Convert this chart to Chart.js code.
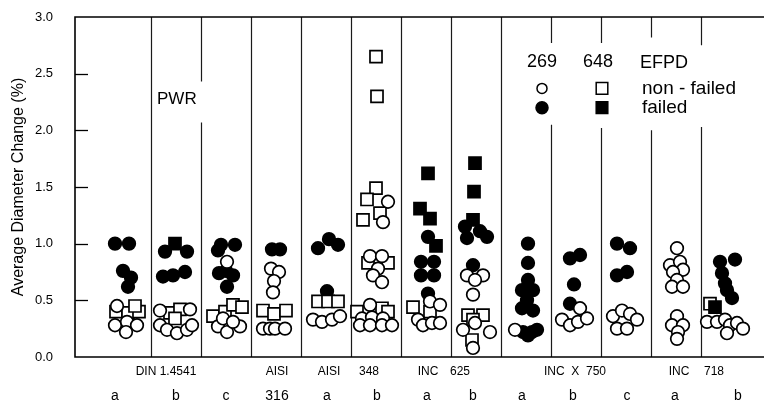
<!DOCTYPE html>
<html><head><meta charset="utf-8">
<script src="https://cdn.jsdelivr.net/npm/chart.js@4/dist/chart.umd.min.js"></script>
<style>html,body{margin:0;padding:0;background:#fff}</style>
</head><body>
<canvas id="c" width="764" height="418"></canvas>
<script>
// ---- tick labels ----
const letters = ['a','b','c','316','a','b','a','b','a','b','c','a','b'];
const letterPos = [-0.22,1,2,3.02,4.02,5.02,6.02,6.94,7.92,8.94,10.02,10.98,12.24];
const groups = ['DIN 1.4541','AISI','AISI','348','INC','625','INC  X  750','INC','718'];
const groupPos = [0.80,3.02,4.06,4.86,6.04,6.68,8.98,11.06,11.76];
const yTicks = [0,0.5,1.0,1.5,2.0,2.5,3.0];

// ---- data: EFPD 269 non-failed (open circles) ----
const openCircleX = [-0.18,-0.22,0.02,0.22,0.0,
  0.68,1.28,0.68,0.82,1.02,1.22,1.32,
  2.02,1.84,2.02,2.28,1.94,2.14,
  2.90,3.06,2.96,2.94,2.74,2.88,2.98,3.18,
  3.74,3.92,4.12,4.28,
  5.24,5.14,4.88,5.12,5.04,4.94,5.12,4.88,4.72,4.92,5.14,4.68,4.88,5.12,5.32,
  6.08,6.28,5.84,5.94,6.12,6.28,
  6.82,7.14,6.98,6.94,6.74,6.98,7.28,6.94,
  7.78,
  9.08,8.72,8.88,9.04,9.22,
  9.74,9.92,10.08,10.22,9.82,10.02,
  11.02,10.88,11.08,11.14,10.94,11.02,10.92,11.14,11.02,10.92,11.14,11.04,11.02,
  11.62,11.82,11.98,12.08,12.22,12.34,12.02];
const openCircleY = [0.45,0.28,0.31,0.28,0.22,
  0.41,0.42,0.28,0.24,0.21,0.24,0.28,
  0.84,0.27,0.22,0.27,0.34,0.31,
  0.78,0.75,0.67,0.57,0.25,0.25,0.25,0.25,
  0.33,0.31,0.33,0.36,
  1.37,1.19,0.89,0.89,0.78,0.72,0.66,0.46,0.34,0.35,0.34,0.28,0.28,0.28,0.28,
  0.49,0.46,0.33,0.28,0.30,0.30,
  0.72,0.72,0.68,0.55,0.24,0.30,0.22,0.08,
  0.24,
  0.43,0.33,0.28,0.31,0.34,
  0.36,0.41,0.38,0.33,0.25,0.25,
  0.96,0.81,0.84,0.77,0.75,0.68,0.62,0.62,0.36,0.28,0.28,0.22,0.16,
  0.31,0.31,0.33,0.28,0.30,0.25,0.21];

// ---- EFPD 269 failed (filled circles) ----
const filledCircleX = [-0.22,0.06,-0.06,0.10,0.04,
  0.78,1.22,0.74,0.94,1.18,
  1.90,2.18,1.84,1.86,2.14,2.00,2.02,
  2.92,3.08,
  3.84,4.06,4.24,4.02,
  6.04,5.90,6.16,5.90,6.16,6.04,
  6.78,6.82,7.22,7.08,6.94,
  8.04,8.04,8.04,7.92,8.14,8.02,7.92,8.14,7.94,8.12,8.22,8.04,
  8.88,9.08,8.96,8.88,
  9.82,10.08,9.82,10.02,
  11.88,12.18,11.92,11.98,12.02,12.12];
const filledCircleY = [1.00,1.00,0.76,0.70,0.62,
  0.93,0.93,0.71,0.72,0.75,
  0.99,0.99,0.94,0.74,0.72,0.76,0.62,
  0.95,0.95,
  0.96,1.04,0.99,0.58,
  1.06,0.84,0.84,0.72,0.72,0.56,
  1.15,1.05,1.06,1.11,0.81,
  1.00,0.83,0.68,0.59,0.59,0.50,0.43,0.41,0.22,0.22,0.24,0.19,
  0.87,0.90,0.64,0.47,
  1.00,0.96,0.72,0.75,
  0.84,0.86,0.74,0.65,0.59,0.52];

// ---- EFPD 648 non-failed (open squares) ----
const openSquareX = [-0.20,0.04,0.26,0.18,
  0.88,1.08,0.98,
  1.74,1.98,2.14,2.32,
  2.74,2.96,3.20,
  3.84,4.04,4.24,
  5.00,5.02,5.00,4.82,4.74,5.08,4.84,5.24,4.62,5.12,5.24,
  5.74,6.08,
  6.84,7.14,6.94,6.92,
  11.68];
const openSquareY = [0.40,0.39,0.40,0.45,
  0.39,0.42,0.34,
  0.36,0.40,0.46,0.44,
  0.41,0.38,0.41,
  0.49,0.49,0.49,
  2.65,2.30,1.49,1.39,1.21,1.27,0.83,0.83,0.40,0.43,0.40,
  0.44,0.40,
  0.37,0.37,0.33,0.15,
  0.47];

// ---- EFPD 648 failed (filled squares) ----
const filledSquareX = [0.98, 6.04,5.88,6.08,6.20, 6.98,6.96,6.94, 11.78];
const filledSquareY = [1.00, 1.62,1.31,1.22,0.98, 1.71,1.46,1.21, 0.44];

// ---- layout helpers (not data) ----
const separators = [0.5,1.5,2.5,3.5,4.5,5.5,6.5,7.5,8.5,9.5,10.5,11.5];
const sepGaps = {'1.5':[2.07,2.43],'8.5':[2.05,2.77],'9.5':[2.02,2.77],'10.5':[2.00,2.82],'11.5':[2.03,2.75]};
const tickMarks = [0.5,1.0,1.5,2.0,2.5];

const pts = (xs, ys) => xs.map((v,i)=>({x:v, y:ys[i]}));
const FONT = '"Liberation Sans", Arial, Helvetica, sans-serif';

const decor = {
  id:'decor',
  beforeDatasetsDraw(chart){
    const {ctx, chartArea:a, scales:{x,y}} = chart;
    ctx.save();
    ctx.strokeStyle = '#1a1a1a'; ctx.lineWidth = 1.2;
    separators.forEach(p=>{
      const px = Math.round(x.getPixelForValue(p)) + 0.5;
      const g = sepGaps[String(p)];
      ctx.beginPath();
      if (g) {
        ctx.moveTo(px, a.top); ctx.lineTo(px, y.getPixelForValue(g[1]));
        ctx.moveTo(px, y.getPixelForValue(g[0])); ctx.lineTo(px, a.bottom);
      } else { ctx.moveTo(px, a.top); ctx.lineTo(px, a.bottom); }
      ctx.stroke();
    });
    ctx.strokeStyle = '#000'; ctx.lineWidth = 1.6;
    ctx.beginPath();
    ctx.moveTo(a.right, a.top); ctx.lineTo(a.left, a.top);
    ctx.lineTo(a.left, a.bottom); ctx.lineTo(a.right, a.bottom);
    ctx.stroke();
    ctx.lineWidth = 1.3;
    tickMarks.forEach(v=>{
      const py = Math.round(y.getPixelForValue(v)) + 0.5;
      ctx.beginPath(); ctx.moveTo(a.left, py); ctx.lineTo(a.left + 13, py); ctx.stroke();
    });
    ctx.restore();
  },
  afterDatasetsDraw(chart){
    const {ctx, scales:{x,y}} = chart;
    ctx.save();
    ctx.fillStyle = '#000'; ctx.strokeStyle = '#000';
    ctx.textBaseline = 'middle';
    ctx.font = '17px ' + FONT; ctx.textAlign = 'left';
    ctx.fillText('PWR', x.getPixelForValue(0.62), y.getPixelForValue(2.27));
    ctx.font = '18px ' + FONT; ctx.textAlign = 'center';
    ctx.fillText('269', x.getPixelForValue(8.32), y.getPixelForValue(2.60));
    ctx.fillText('648', x.getPixelForValue(9.44), y.getPixelForValue(2.60));
    ctx.textAlign = 'left';
    ctx.fillText('EFPD', x.getPixelForValue(10.28), y.getPixelForValue(2.59));
    ctx.font = '19px ' + FONT;
    ctx.fillText('non - failed', x.getPixelForValue(10.32), y.getPixelForValue(2.37));
    ctx.fillText('failed', x.getPixelForValue(10.32), y.getPixelForValue(2.20));
    const dp = Chart.helpers.drawPoint;
    ctx.lineWidth = 1.5;
    ctx.fillStyle = '#fff';
    dp(ctx, {pointStyle:'circle', radius:5, rotation:0, borderWidth:1.5}, x.getPixelForValue(8.32), y.getPixelForValue(2.37));
    dp(ctx, {pointStyle:'rect', radius:8.2, rotation:0, borderWidth:1.5}, x.getPixelForValue(9.52), y.getPixelForValue(2.37));
    ctx.fillStyle = '#000';
    dp(ctx, {pointStyle:'circle', radius:6, rotation:0, borderWidth:1.5}, x.getPixelForValue(8.32), y.getPixelForValue(2.20));
    dp(ctx, {pointStyle:'rect', radius:8.2, rotation:0, borderWidth:1.5}, x.getPixelForValue(9.52), y.getPixelForValue(2.20));
    ctx.restore();
  }
};

const noPadH = s => { s.paddingLeft = 0; s.paddingRight = 0; };
const common = {borderColor:'#000', borderWidth:1.7, showLine:false, pointHoverRadius:6.3};
new Chart(document.getElementById('c'), {
  type:'scatter',
  data:{datasets:[
    {...common, label:'269 non-failed', data:pts(openCircleX, openCircleY), pointStyle:'circle', pointRadius:6.3, backgroundColor:'#fff', order:0},
    {...common, label:'648 failed', data:pts(filledSquareX, filledSquareY), pointStyle:'rect', pointRadius:8.5, backgroundColor:'#000', order:1},
    {...common, label:'648 non-failed', data:pts(openSquareX, openSquareY), pointStyle:'rect', pointRadius:8.5, backgroundColor:'#fff', order:2},
    {...common, label:'269 failed', data:pts(filledCircleX, filledCircleY), pointStyle:'circle', pointRadius:6.3, backgroundColor:'#000', order:3}
  ]},
  options:{
    responsive:false, animation:false, devicePixelRatio:1,
    layout:{autoPadding:false, padding:{top:17,left:0,right:0,bottom:0}},
    plugins:{legend:{display:false}, tooltip:{enabled:false}},
    scales:{
      x:{type:'linear', position:'bottom', weight:1, min:-1.02, max:12.76,
        grid:{display:false, drawTicks:false}, border:{display:false},
        afterBuildTicks:s=>{s.ticks = letterPos.map(v=>({value:v}));},
        afterFit:s=>{s.height = 35; noPadH(s);},
        ticks:{autoSkip:false, maxRotation:0, minRotation:0, padding:5, color:'#000',
          font:{family:FONT, size:14}, callback:(v,i)=>letters[i]}},
      xg:{type:'linear', position:'bottom', weight:0, min:-1.02, max:12.76,
        grid:{display:false, drawTicks:false}, border:{display:false},
        afterBuildTicks:s=>{s.ticks = groupPos.map(v=>({value:v}));},
        afterFit:s=>{s.height = 26; noPadH(s);},
        ticks:{autoSkip:false, maxRotation:0, minRotation:0, padding:7, color:'#000',
          font:{family:FONT, size:12}, callback:(v,i)=>groups[i]}},
      y:{min:0, max:3,
        grid:{display:false, drawTicks:false}, border:{display:false},
        afterBuildTicks:s=>{s.ticks = yTicks.map(v=>({value:v}));},
        afterFit:s=>{s.width = 75; s.paddingTop = 0; s.paddingBottom = 0;},
        ticks:{padding:22, color:'#000', font:{family:FONT, size:13}, callback:v=>v.toFixed(1)},
        title:{display:true, text:'Average Diameter Change (%)', color:'#000',
          font:{family:FONT, size:16}, padding:{top:9,bottom:0}}}
    }
  },
  plugins:[decor]
});
</script>
</body></html>
